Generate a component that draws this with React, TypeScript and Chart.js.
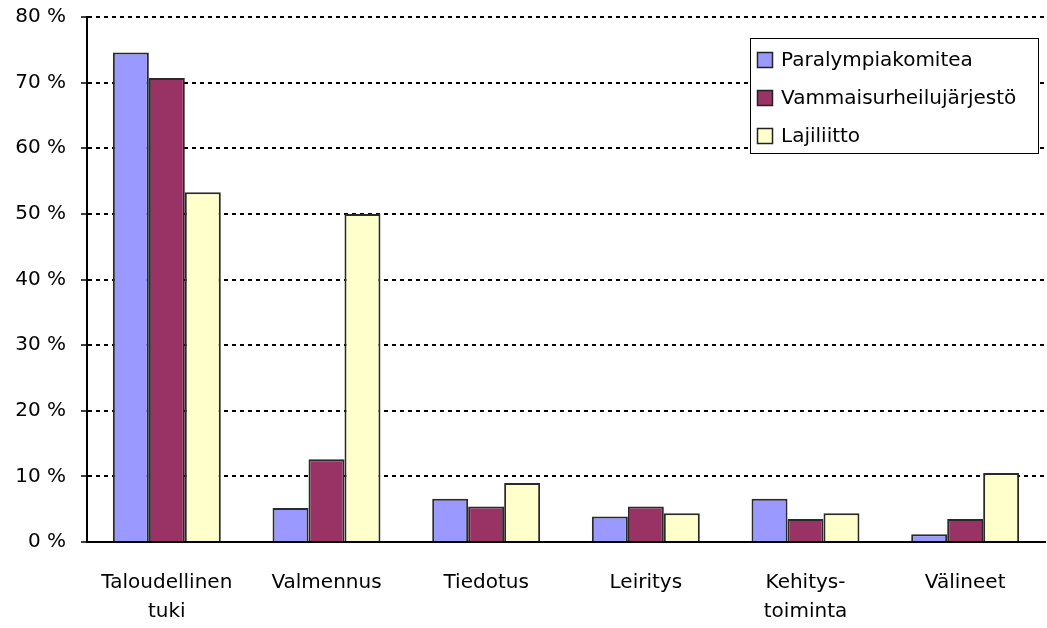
import React, { useEffect, useRef } from "react";
import { Chart, registerables } from "chart.js";

Chart.register(...registerables);

const categories: string[][] = [
  ["Taloudellinen", "tuki"],
  ["Valmennus"],
  ["Tiedotus"],
  ["Leiritys"],
  ["Kehitys-", "toiminta"],
  ["Välineet"],
];
const paralympiakomitea = [74.6, 5.2, 6.6, 3.9, 6.6, 1.2];
const vammaisurheilujarjesto = [70.7, 12.6, 5.4, 5.4, 3.5, 3.5];
const lajiliitto = [53.3, 50.0, 9.0, 4.4, 4.4, 10.5];
const seriesNames = ["Paralympiakomitea", "Vammaisurheilujärjestö", "Lajiliitto"];
const seriesColors = ["#9999FF", "#993366", "#FFFFCC"];
const yTicks = [0, 10, 20, 30, 40, 50, 60, 70, 80];

const FONT = "'DejaVu Sans', sans-serif";

const boxLegend = {
  id: "boxLegend",
  afterDraw(chart: any) {
    const { ctx } = chart;
    const left = 750;
    const right = 1038;
    const top = 38;
    const bottom = 153;
    ctx.save();
    ctx.fillStyle = "#ffffff";
    ctx.fillRect(left, top, right - left, bottom - top);
    ctx.strokeStyle = "#000000";
    ctx.lineWidth = 1;
    ctx.strokeRect(left + 0.5, top + 0.5, right - left, bottom - top);
    ctx.font = `20px ${FONT}`;
    ctx.textBaseline = "middle";
    chart.data.datasets.forEach((ds: any, i: number) => {
      const cy = 60 + i * 38;
      ctx.fillStyle = ds.backgroundColor;
      ctx.fillRect(757, cy - 8, 16, 16);
      ctx.strokeStyle = "#222";
      ctx.lineWidth = 1.5;
      ctx.strokeRect(757.5, cy - 7.5, 15, 15);
      ctx.fillStyle = "#000";
      ctx.fillText(ds.label, 781, cy + 1);
    });
    ctx.restore();
  },
};

export default function App() {
  const ref = useRef<HTMLCanvasElement>(null);
  useEffect(() => {
    document.body.style.margin = "0";
    const data = [paralympiakomitea, vammaisurheilujarjesto, lajiliitto];
    const chart = new Chart(ref.current!, {
      type: "bar",
      data: {
        labels: categories,
        datasets: seriesNames.map((name, i) => ({
          label: name,
          data: data[i],
          backgroundColor: seriesColors[i],
          borderColor: "#2a2a2a",
          borderWidth: 2,
          borderSkipped: "bottom",
          categoryPercentage: 0.676,
          barPercentage: 1,
        })),
      },
      options: {
        animation: false,
        responsive: true,
        maintainAspectRatio: false,
        layout: { padding: { left: 0, top: 17, right: 2, bottom: 0 } },
        plugins: {
          legend: { display: false },
          tooltip: { enabled: false },
        },
        scales: {
          x: {
            grid: { display: false, drawTicks: false },
            border: { display: true, color: "#000", width: 2 },
            ticks: {
              color: "#000",
              font: { family: FONT, size: 20, lineHeight: 1.45 },
              padding: 26,
              maxRotation: 0,
              autoSkip: false,
            },
            afterFit(scale: any) {
              scale.height = 628 - 542;
              scale.paddingLeft = 0;
              scale.paddingRight = 0;
            },
          },
          y: {
            min: 0,
            max: 80,
            afterBuildTicks(scale: any) {
              scale.ticks = yTicks.map((v) => ({ value: v }));
            },
            grid: {
              color: "#000",
              lineWidth: 2,
              tickLength: 6,
              tickColor: "#000",
              tickWidth: 1.5,
              tickBorderDash: [],
            },
            border: { display: true, color: "#000", width: 2, dash: [4, 4] },
            ticks: {
              color: "#000",
              font: { family: FONT, size: 20 },
              padding: 15,
              callback: (v: any) => `${v} %`,
            },
            afterFit(scale: any) {
              scale.width = 87;
              scale.paddingTop = 0;
              scale.paddingBottom = 0;
            },
          },
        },
      },
      plugins: [boxLegend],
    });
    return () => chart.destroy();
  }, []);
  return (
    <div style={{ width: 1047, height: 628, position: "relative" }}>
      <canvas ref={ref} />
    </div>
  );
}
